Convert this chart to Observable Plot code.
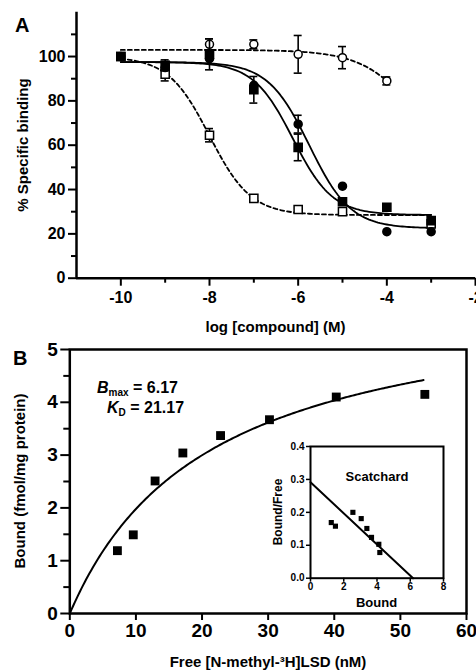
<!DOCTYPE html>
<html><head><meta charset="utf-8">
<script src="https://cdn.jsdelivr.net/npm/d3@7"></script>
<script src="https://cdn.jsdelivr.net/npm/@observablehq/plot@0.6"></script>
<style>
html,body{margin:0;padding:0;background:#fff;}
#root{position:relative;width:476px;height:672px;overflow:hidden;background:#fff;}
#root > .panel{position:absolute;}
svg text{font-family:"Liberation Sans",Arial,sans-serif;font-weight:bold;}
</style></head><body><div id="root"></div>
<script>
// ---------- Panel A data ----------
const logConc = [-10, -9, -8, -7, -6, -5, -4, -3];
const filledSquares    = [100, 96, 101, 85, 59, 34.5, 32, 26];
const filledSquaresErr = [0, 2.5, 7, 6, 6, 0, 0, 0];
const filledCircles    = [100, 95, 99, 87, 69.5, 41.5, 21, 21];
const filledCirclesErr = [0, 0, 0, 0, 4, 0, 0, 0];
const openSquares      = [100, 92, 64.5, 36, 31, 30, null, 24.5];
const openSquaresErr   = [0, 3, 3, 0, 0, 0, 0, 0];
const openCircleConc   = [-8, -7, -6, -5, -4];
const openCircles      = [105.5, 105.5, 101, 99.5, 89];
const openCirclesErr   = [2.5, 2, 8.5, 5, 1.8];
// four-parameter logistic fits (filled squares, filled circles, open squares, open circles)
const fitTop      = [97.5, 97.5, 100, 103];
const fitBottom   = [28.5, 22.5, 28.5, 28];
const fitLogIC50  = [-6.12, -5.75, -8.0, -3.05];
const fitHill     = [0.97, 0.93, 0.93, 0.67];
const fitStart    = [-10, -10, -10, -10];
const fitEnd      = [-3, -3, -3, -4];
const fitDashed   = [false, false, true, true];
const yTicksA = [0, 20, 40, 60, 80, 100];
const yMinorA = [10, 30, 50, 70, 90, 110];
const xTicksA = [-10, -8, -6, -4, -2];
const xMinorA = [-9, -7, -5, -3];

// ---------- Panel B data ----------
const freeLSD = [7.2, 9.6, 12.9, 17.1, 22.8, 30.2, 40.3, 53.7];
const boundLSD = [1.19, 1.49, 2.51, 3.04, 3.37, 3.67, 4.10, 4.15];
const Bmax = 6.17, KD = 21.17;
const xTicksB = [0, 10, 20, 30, 40, 50, 60];
const yTicksB = [0, 1, 2, 3, 4, 5];
const yMinorB = [0.5, 1.5, 2.5, 3.5, 4.5];
// Scatchard inset
const scBound = [1.25, 1.5, 2.55, 3.05, 3.39, 3.67, 4.11, 4.17];
const scRatio = [0.169, 0.158, 0.200, 0.181, 0.151, 0.124, 0.103, 0.078];
const xTicksC = [0, 2, 4, 6, 8];
const yTicksC = [0, 0.1, 0.2, 0.3, 0.4];

const FONT = '"Liberation Sans", Arial, sans-serif';
const NARROW = '"Liberation Sans Narrow", "Arial Narrow", "DejaVu Sans Condensed", "Liberation Sans", sans-serif';
const baseStyle = {fontFamily: FONT, fontWeight: "bold", background: "transparent", overflow: "visible", color: "#000"};
const root = document.getElementById("root");

function place(node, left, top) {
  const d = document.createElement("div");
  d.className = "panel";
  d.style.left = left + "px"; d.style.top = top + "px";
  d.appendChild(node);
  root.appendChild(d);
}
function label(svg, x, y, txt, size, opts = {}) {
  const t = d3.select(svg).append("text")
    .attr("x", x).attr("y", y)
    .attr("font-size", size).attr("font-weight", "bold")
    .attr("font-family", FONT)
    .attr("text-anchor", opts.anchor || "middle")
    .attr("fill", "#000");
  if (opts.rotate) t.attr("transform", `rotate(-90 ${x} ${y})`);
  if (opts.parts) {
    opts.parts.forEach(p => {
      const s = t.append("tspan").text(p.t);
      if (p.italic) s.attr("font-style", "italic");
      if (p.size) s.attr("font-size", p.size);
      if (p.dy) s.attr("dy", p.dy);
    });
  } else t.text(txt);
  return t;
}

// ---------- build panel A ----------
function logistic(i) {
  const xs = d3.range(fitStart[i], fitEnd[i] + 1e-9, 0.05);
  return xs.map(x => ({x, y: fitBottom[i] + (fitTop[i] - fitBottom[i]) / (1 + Math.pow(10, fitHill[i] * (x - fitLogIC50[i]))), k: i}));
}
const seriesA = [
  {x: logConc, y: filledSquares, e: filledSquaresErr, symbol: "square", fill: "#000"},
  {x: logConc, y: filledCircles, e: filledCirclesErr, symbol: "circle", fill: "#000"},
  {x: logConc, y: openSquares, e: openSquaresErr, symbol: "square", fill: "#fff"},
  {x: openCircleConc, y: openCircles, e: openCirclesErr, symbol: "circle", fill: "#fff"}
];
const ptsA = seriesA.map(s => s.x.map((x, j) => ({x, y: s.y[j], e: s.e[j]})).filter(d => d.y != null));
const capW = 0.09;
const marksA = [
  Plot.axisY(yMinorA, {tickSize: 5, strokeWidth: 2, tickFormat: () => "", label: null}),
  Plot.axisY(yTicksA, {tickSize: 8, strokeWidth: 2, tickPadding: 3, tickFormat: d => String(d), fontSize: 16, label: null}),
  Plot.axisX(xMinorA, {tickSize: 5, strokeWidth: 2, tickFormat: () => "", label: null}),
  Plot.axisX(xTicksA, {tickSize: 8, strokeWidth: 2, tickPadding: 5, tickFormat: d => String(d), fontSize: 16, label: null}),
  Plot.ruleX([-11], {strokeWidth: 2.5}),
  Plot.ruleY([0], {strokeWidth: 2.5})
];
[0, 1, 2, 3].forEach(i => {
  marksA.push(Plot.line(logistic(i), {x: "x", y: "y", stroke: "#000", strokeWidth: 1.8,
    strokeDasharray: fitDashed[i] ? "4,3" : null}));
});
// draw order: open squares, open circles, filled circles, filled squares
[2, 3, 1, 0].forEach(i => {
  const s = seriesA[i];
  const ev = ptsA[i].filter(d => d.e > 0);
  marksA.push(Plot.ruleX(ev, {x: "x", y1: d => d.y - d.e, y2: d => d.y + d.e, stroke: "#000", strokeWidth: 1.6}));
  marksA.push(Plot.ruleY(ev, {y: d => d.y + d.e, x1: d => d.x - capW, x2: d => d.x + capW, stroke: "#000", strokeWidth: 1.6}));
  marksA.push(Plot.ruleY(ev, {y: d => d.y - d.e, x1: d => d.x - capW, x2: d => d.x + capW, stroke: "#000", strokeWidth: 1.6}));
  marksA.push(Plot.dot(ptsA[i], {x: "x", y: "y", symbol: s.symbol, r: s.symbol === "square" ? 4.6 : 4,
    fill: s.fill, stroke: "#000", strokeWidth: 1.5}));
});
const plotA = Plot.plot({
  width: 476, height: 340,
  marginLeft: 76, marginRight: 1, marginTop: 11.7, marginBottom: 62.3,
  x: {domain: [-11, -2]},
  y: {domain: [0, 120]},
  style: {...baseStyle, fontSize: "16px"},
  marks: marksA
});
label(plotA, 15, 32, "A", 20, {anchor: "start"});
label(plotA, 27.5, 145, "% Specific binding", 15, {rotate: true});
label(plotA, 275.5, 332, "log [compound] (M)", 15);
place(plotA, 0, 0);

// ---------- build panel B ----------
const ptsB = freeLSD.map((x, j) => ({x, y: boundLSD[j]}));
const curveB = d3.range(0, freeLSD[freeLSD.length - 1] + 1e-9, 0.25).map(x => ({x, y: Bmax * x / (KD + x)}));
const plotB = Plot.plot({
  width: 476, height: 332,
  marginLeft: 69.3, marginRight: 10, marginTop: 9, marginBottom: 59,
  x: {domain: [0, 60]},
  y: {domain: [0, 5]},
  style: {...baseStyle, fontSize: "18px"},
  marks: [
    Plot.axisY(yMinorB, {tickSize: 6, strokeWidth: 2, tickFormat: () => "", label: null}),
    Plot.axisY(yTicksB, {tickSize: 9, strokeWidth: 2, tickPadding: 3, tickFormat: d => String(d), fontSize: 19, fontFamily: NARROW, label: null}),
    Plot.axisX(xTicksB, {tickSize: 7, strokeWidth: 2, tickPadding: 3, tickFormat: d => String(d), fontSize: 19, fontFamily: NARROW, label: null}),
    Plot.frame({strokeWidth: 2.5}),
    Plot.line(curveB, {x: "x", y: "y", stroke: "#000", strokeWidth: 2}),
    Plot.dot(ptsB, {x: "x", y: "y", symbol: "square", r: 5, fill: "#000", stroke: "none"})
  ]
});
label(plotB, 13, 25, "B", 20, {anchor: "start"});
label(plotB, 25, 141, "Bound (fmol/mg protein)", 15, {rotate: true});
label(plotB, 268, 327, "Free [N-methyl-³H]LSD (nM)", 15);
label(plotB, 97, 53, null, 16, {anchor: "start", parts: [
  {t: "B", italic: true}, {t: "max", size: 10, dy: 3}, {t: " = 6.17", dy: -3}]});
label(plotB, 107, 73, null, 16, {anchor: "start", parts: [
  {t: "K", italic: true}, {t: "D", size: 10, dy: 3}, {t: " = 21.17", dy: -3}]});
place(plotB, 0, 340);

// ---------- Scatchard inset ----------
const ptsC = scBound.map((x, j) => ({x, y: scRatio[j]}));
const lineC = [{x: 0, y: Bmax / KD}, {x: Bmax, y: 0}];
const plotC = Plot.plot({
  width: 200, height: 180,
  marginLeft: 50, marginRight: 17, marginTop: 16, marginBottom: 32.3,
  x: {domain: [0, 8]},
  y: {domain: [0, 0.4]},
  style: {...baseStyle, fontSize: "9px"},
  marks: [
    Plot.frame({fill: "#fff", stroke: "none"}),
    Plot.axisY(yTicksC, {tickSize: 4, strokeWidth: 1.5, tickPadding: 2, tickFormat: d3.format(".1f"), fontSize: 10, fontFamily: NARROW, label: null}),
    Plot.axisX(xTicksC, {tickSize: 4, strokeWidth: 1.5, tickPadding: 1, tickFormat: d => String(d), fontSize: 10, fontFamily: NARROW, label: null}),
    Plot.frame({strokeWidth: 2}),
    Plot.line(lineC, {x: "x", y: "y", stroke: "#000", strokeWidth: 2}),
    Plot.dot(ptsC, {x: "x", y: "y", symbol: "square", r: 2.9, fill: "#000", stroke: "none"}),
    Plot.text(["Scatchard"], {frameAnchor: "top", dy: 25, text: d => d, fontSize: 13, fontWeight: "bold"})
  ]
});
label(plotC, 116.5, 177, "Bound", 13);
label(plotC, 22, 82, "Bound/Free", 12, {rotate: true});
place(plotC, 260, 430);
</script></body></html>
